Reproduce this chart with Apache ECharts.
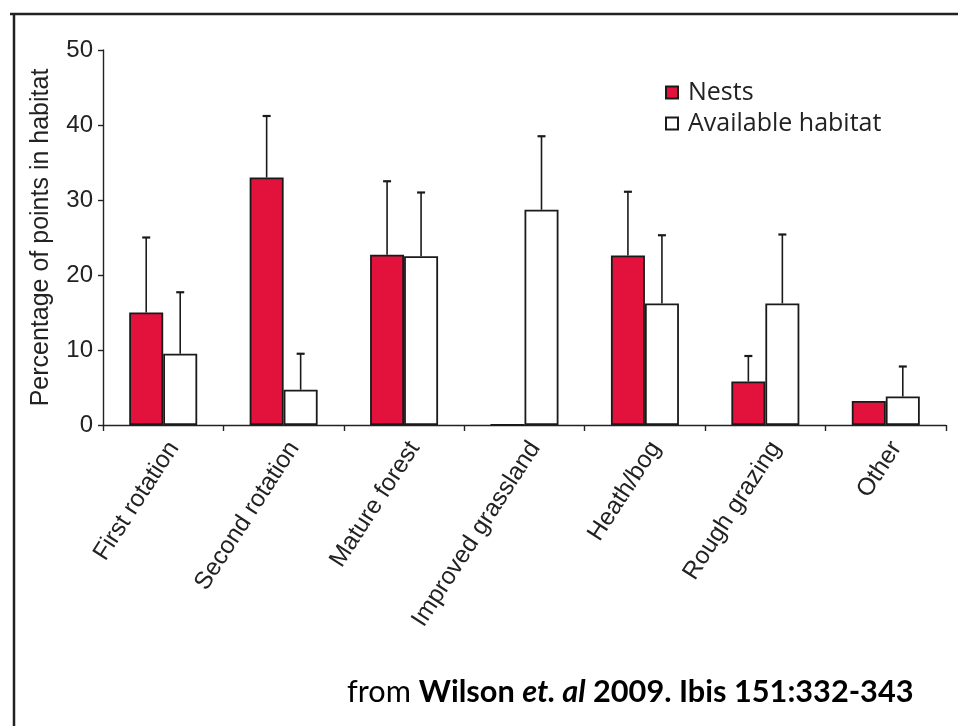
<!DOCTYPE html>
<html>
<head>
<meta charset="utf-8">
<script src="https://cdn.jsdelivr.net/npm/echarts@6/dist/echarts.min.js"></script>
<style>
  html, body { margin: 0; padding: 0; background: #fff; }
  #chart { width: 958px; height: 726px; }
</style>
</head>
<body>
<div id="chart"></div>
<script>
// Habitat categories along the x axis
const categories = ['First rotation', 'Second rotation', 'Mature forest', 'Improved grassland', 'Heath/bog', 'Rough grazing', 'Other'];
// Percentage of nest points in each habitat, with upper error-bar ends
const nests = [15, 33, 22.7, 0, 22.6, 5.8, 3.2];
const nestsUpper = [25, 41.2, 32.5, null, 31.1, 9.2, null];
// Percentage of available habitat points, with upper error-bar ends
const available = [9.5, 4.7, 22.5, 28.7, 16.2, 16.2, 3.8];
const availableUpper = [17.7, 9.5, 31, 38.5, 25.3, 25.4, 7.8];
const yTicks = [0, 10, 20, 30, 40, 50];

const BAR_W = 34;
const axisFont = 'Liberation Sans, Arial, sans-serif';

function errorData(vals, uppers) {
  const out = [];
  vals.forEach((v, i) => { if (uppers[i] != null) out.push([i, v, uppers[i]]); });
  return out;
}

function errorRenderer(offset) {
  return function (params, api) {
    const base = api.coord([api.value(0), api.value(1)]);
    const top = api.coord([api.value(0), api.value(2)]);
    const x = base[0] + offset;
    const cap = 4;
    return {
      type: 'group',
      children: [
        { type: 'line', shape: { x1: x, y1: base[1], x2: x, y2: top[1] }, style: { stroke: '#1a1a1a', lineWidth: 1.6 } },
        { type: 'line', shape: { x1: x - cap, y1: top[1], x2: x + cap, y2: top[1] }, style: { stroke: '#1a1a1a', lineWidth: 2.2 } }
      ]
    };
  };
}

const chart = echarts.init(document.getElementById('chart'), null, { renderer: 'canvas' });
chart.setOption({
  backgroundColor: '#ffffff',
  animation: false,
  grid: { left: 103, right: 12, top: 50, bottom: 301 },
  legend: {
    data: ['Nests', 'Available habitat'],
    orient: 'vertical',
    left: 660,
    top: 75,
    icon: 'rect',
    itemWidth: 12,
    itemHeight: 12,
    itemGap: 6,
    textStyle: { fontFamily: 'Open Sans, sans-serif', fontSize: 25, color: '#222', padding: [0, 0, 0, 5] }
  },
  xAxis: {
    type: 'category',
    data: categories,
    axisLine: { lineStyle: { color: '#222', width: 1.4 } },
    axisTick: { show: true, length: 6, inside: false, lineStyle: { color: '#222', width: 1.4 } },
    axisLabel: {
      rotate: 57,
      margin: 12,
      verticalAlign: 'top',
      fontFamily: axisFont,
      fontSize: 24.5,
      color: '#222',
      interval: 0
    }
  },
  yAxis: {
    type: 'value',
    min: yTicks[0],
    max: yTicks[yTicks.length - 1],
    interval: 10,
    name: 'Percentage of points in habitat',
    nameLocation: 'middle',
    nameGap: 49,
    nameTextStyle: { fontFamily: axisFont, fontSize: 25, color: '#222' },
    axisLine: { show: true, lineStyle: { color: '#222', width: 1.4 } },
    axisTick: { show: true, length: 5, lineStyle: { color: '#222', width: 1.4 } },
    axisLabel: { fontFamily: axisFont, fontSize: 24, color: '#222', margin: 10 },
    splitLine: { show: false }
  },
  series: [
    {
      name: 'Nests',
      type: 'bar',
      data: nests,
      barWidth: BAR_W,
      barGap: '0%',
      itemStyle: { color: '#e3123d', borderColor: '#1a1a1a', borderWidth: 1.8 }
    },
    {
      name: 'Available habitat',
      type: 'bar',
      data: available,
      barWidth: BAR_W,
      barGap: '0%',
      itemStyle: { color: '#ffffff', borderColor: '#1a1a1a', borderWidth: 1.8 }
    },
    {
      name: 'Nests error',
      type: 'custom',
      renderItem: errorRenderer(-BAR_W / 2),
      data: errorData(nests, nestsUpper),
      encode: { x: 0, y: [1, 2] },
      z: 1
    },
    {
      name: 'Available error',
      type: 'custom',
      renderItem: errorRenderer(BAR_W / 2),
      data: errorData(available, availableUpper),
      encode: { x: 0, y: [1, 2] },
      z: 1
    }
  ],
  graphic: [
    { type: 'line', shape: { x1: 10, y1: 14, x2: 958, y2: 14 }, style: { stroke: '#222', lineWidth: 2.5 } },
    { type: 'line', shape: { x1: 14, y1: 13, x2: 14, y2: 726 }, style: { stroke: '#222', lineWidth: 2.5 } },
    {
      type: 'text',
      left: 347,
      top: 677,
      style: {
        text: '{n|from }{b|Wilson }{i|et. al}{b| 2009. Ibis 151:332-343}',
        rich: {
          n: { fontFamily: 'Lato, sans-serif', fontSize: 30.7, color: '#222' },
          b: { fontFamily: 'Lato, sans-serif', fontSize: 30.7, fontWeight: 'bold', color: '#222' },
          i: { fontFamily: 'Lato, sans-serif', fontSize: 30.7, fontWeight: 'bold', fontStyle: 'italic', color: '#222' }
        }
      }
    }
  ]
});
</script>
</body>
</html>
